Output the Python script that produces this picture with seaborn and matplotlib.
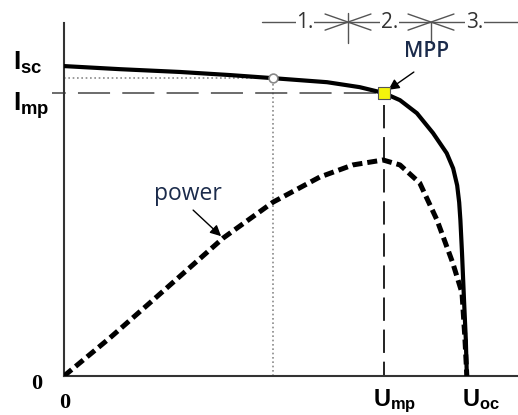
import matplotlib
matplotlib.use("Agg")
import matplotlib.pyplot as plt
import seaborn as sns

# I-U characteristic of the cell (arbitrary units, U_oc = 100, I_sc = 100)
iv_u = [0, 13.9, 28.8, 41.2, 51.9, 65.3, 73.4, 79.4, 83.4, 87.6, 91.6, 95.0,
        96.6, 97.6, 98.1, 98.4, 98.8, 99.3, 99.75, 100]
iv_i = [100, 99.0, 98.1, 97.1, 96.1, 94.8, 93.2, 91.3, 89.0, 84.8, 78.4, 71.9,
        67.0, 61.5, 56.0, 50.3, 39.7, 24.5, 11.6, 0]

# power curve P = U * I (same arbitrary scale)
power_u = [0, 11.4, 22.1, 39.5, 51.9, 63.5, 71.7, 79.2, 83.4, 88.3, 92.6, 96.5,
           98.8, 99.5, 100]
power_p = [0, 12.3, 24.5, 44.5, 56.1, 64.2, 68.1, 69.7, 68.1, 62.3, 50.3, 36.5,
           26.8, 12.6, 0]

# characteristic points
i_sc = 100
u_oc = 100
u_mp = 79.4
i_mp = 91.3
u_guide = 51.9   # dotted guide point on the flat part
i_guide = 96.1

# operating regions along the top
region_edges = [70.5, 91.1]
region_labels = ["1.", "2.", "3."]
region_start = 49.1

sns.set_theme(style="white")
plt.rcParams["font.family"] = ["Open Sans", "DejaVu Sans"]
plt.rcParams["mathtext.fontset"] = "custom"
plt.rcParams["mathtext.bf"] = "Liberation Sans:bold"
plt.rcParams["mathtext.rm"] = "Liberation Sans"
plt.rcParams["mathtext.it"] = "Liberation Sans:italic"

fig = plt.figure(figsize=(5.18, 4.15), dpi=100)
ax = fig.add_axes([64 / 518, 39 / 415, 454 / 518, 353 / 415])
x_max, y_max = 112.7, 113.9
ax.set_xlim(0, x_max)
ax.set_ylim(0, y_max)

for side in ["top", "right"]:
    ax.spines[side].set_visible(False)
for side in ["left", "bottom"]:
    ax.spines[side].set_color("#333333")
    ax.spines[side].set_linewidth(1.5)
ax.set_xticks([])
ax.set_yticks([])

# guide lines
ax.plot([0, u_guide], [i_guide, i_guide], color="#8a8a8a", lw=1.2,
        ls=(0, (1, 1.6)), zorder=2)
ax.plot([u_guide, u_guide], [0, i_guide], color="#8a8a8a", lw=1.2,
        ls=(0, (1, 1.6)), zorder=2)
ax.plot([-3, u_mp], [i_mp, i_mp], color="#444444", lw=1.1,
        ls=(12, (21, 8)), clip_on=False, zorder=2)
ax.plot([u_mp, u_mp], [i_mp - 4, 0], color="#222222", lw=1.4,
        ls=(0, (12, 4.5)), zorder=2)

# curves
sns.lineplot(x=iv_u, y=iv_i, ax=ax, color="black", lw=3, zorder=4)
sns.lineplot(x=power_u, y=power_p, ax=ax, color="black", lw=3.6, zorder=3)
ax.lines[-1].set_linestyle((0, (2.0, 1.0)))

# markers
sns.scatterplot(x=[u_guide], y=[i_guide], ax=ax, marker="o", s=40,
                color="white", edgecolor="#888888", linewidth=1.2, zorder=6)
sns.scatterplot(x=[u_mp], y=[i_mp], ax=ax, marker="s", s=75,
                color="#f4f40c", edgecolor="#555555", linewidth=0.8, zorder=6)

# axis labels
lab = dict(textcoords="offset pixels", annotation_clip=False, color="black")
ax.annotate(r"$\mathbf{I_{sc}}$", xy=(0, i_sc), xytext=(-51, -4),
            ha="left", va="baseline", fontsize=19, **lab)
ax.annotate(r"$\mathbf{I_{mp}}$", xy=(0, i_mp), xytext=(-51, -18),
            ha="left", va="baseline", fontsize=19, **lab)
ax.annotate("0", xy=(0, 0), xytext=(-27, -8), ha="center", va="center",
            fontsize=16, fontweight="bold", family="Liberation Serif", **lab)
ax.annotate("0", xy=(0, 0), xytext=(1, -27), ha="center", va="center",
            fontsize=16, fontweight="bold", family="Liberation Serif", **lab)
ax.annotate(r"$\mathbf{U_{mp}}$", xy=(u_mp, 0), xytext=(-11, -30),
            ha="left", va="baseline", fontsize=17, **lab)
ax.annotate(r"$\mathbf{U_{oc}}$", xy=(u_oc, 0), xytext=(-5, -30),
            ha="left", va="baseline", fontsize=17, **lab)

# MPP and power annotations
ax.annotate("MPP", xy=(u_mp, i_mp), xytext=(43, 36), textcoords="offset pixels",
            ha="center", va="baseline", fontsize=15, fontweight="semibold",
            color="#1b2b4b", annotation_clip=False)
ax.annotate("", xy=(u_mp, i_mp), xytext=(30, 21), textcoords="offset pixels",
            arrowprops=dict(arrowstyle="-|>", color="black", lw=1.0,
                            mutation_scale=16, shrinkA=0, shrinkB=4))
ax.annotate("power", xy=(power_u[3], power_p[3]), xytext=(-35, 38),
            textcoords="offset pixels", ha="center", va="baseline",
            fontsize=16.5, color="#1b2b4b")
ax.annotate("", xy=(power_u[3], power_p[3]), xytext=(-30, 28),
            textcoords="offset pixels",
            arrowprops=dict(arrowstyle="-|>", color="black", lw=1.0,
                            mutation_scale=16, shrinkA=0, shrinkB=2))

# region bar along the top
bar_y = 114.2
bar_kw = dict(color="#555555", lw=1.0, clip_on=False)
ax.plot([region_start, x_max], [bar_y, bar_y], **bar_kw)
for k, e in enumerate(region_edges):
    top = bar_y + 2.9 if k == 0 else bar_y
    ax.plot([e, e], [bar_y - 6.8, top], **bar_kw)
    ax.plot([e - 5.7, e, e - 5.7], [bar_y + 2.6, bar_y, bar_y - 2.6], **bar_kw)
    ax.plot([e + 5.7, e, e + 5.7], [bar_y + 2.6, bar_y, bar_y - 2.6], **bar_kw)
bounds = [region_start] + region_edges + [x_max]
for k, txt in enumerate(region_labels):
    mid = (bounds[k] + bounds[k + 1]) / 2
    ax.text(mid, bar_y, txt, ha="center", va="center", fontsize=15,
            color="#333333", clip_on=False,
            bbox=dict(facecolor="white", edgecolor="none", pad=0.5))

fig.savefig("out.png", dpi=100)
